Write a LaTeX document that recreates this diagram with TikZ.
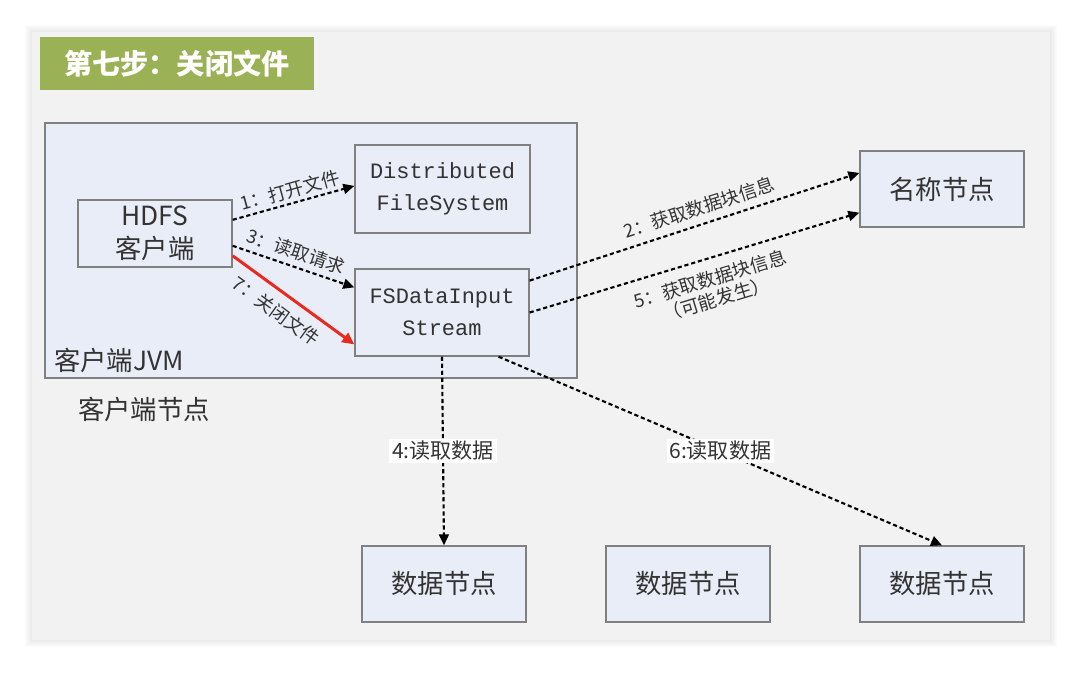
\documentclass[tikz,border=0pt]{standalone}
\usepackage{fontspec}
\setmainfont{Noto Sans CJK SC}
\setmonofont{Liberation Mono}
\usepackage{xcolor}
\usepackage{tikz}
\usetikzlibrary{arrows.meta, positioning}

\definecolor{slidegray}{RGB}{242,242,242}
\definecolor{boxblue}{RGB}{233,237,247}
\definecolor{boxline}{RGB}{128,128,128}
\definecolor{titlegreen}{RGB}{155,177,85}
\definecolor{textgray}{RGB}{51,51,51}
\definecolor{closered}{RGB}{235,40,30}

\begin{document}
\begin{tikzpicture}[x=0.02cm, y=-0.02cm,
    box/.style={draw=boxline, line width=0.8pt, fill=boxblue, text=textgray,
      align=center, font=\fontsize{15pt}{18.5pt}\selectfont},
    monobox/.style={box, font=\ttfamily\fontsize{12.5pt}{18.5pt}\selectfont},
    flow/.style={line width=1.2pt, dash pattern=on 2.4pt off 1.6pt,
      -{Triangle[length=2.2mm,width=2mm]}},
    steplabel/.style={font=\fontsize{10.5pt}{12pt}\selectfont, text=textgray,
      sloped, inner sep=1pt},
    readlabel/.style={font=\fontsize{12pt}{14pt}\selectfont, text=textgray,
      fill=white, inner sep=1.5pt}]
        \useasboundingbox (0,0) rectangle (1083,673);
        % Fond
        \fill[white] (0,0) rectangle (1083,673);
        \foreach \d in {1,...,7}
            \fill[black, opacity=0.012] (32-\d,32-\d) rectangle (1050+\d,640+\d);
        \fill[slidegray] (32,32) rectangle (1050,640);
        % Titre
        \node[fill=titlegreen, minimum width=5.48cm, minimum height=1.06cm,
            text=white, font=\bfseries\fontsize{16pt}{18pt}\selectfont]
            (title) at (177,63.5) {第七步：关闭文件};
        % Client
        \node[box, minimum width=10.64cm, minimum height=5.1cm] (jvm) at (311,250.5) {};
        \node[anchor=west, text=textgray, font=\fontsize{15pt}{18pt}\selectfont]
            (jvmlabel) at (48,360) {客户端JVM};
        \node[anchor=west, text=textgray, font=\fontsize{15pt}{18pt}\selectfont]
            (clientnode) at (72,409) {客户端节点};
        \node[box, minimum width=3.08cm, minimum height=1.34cm] (hdfs) at (155,233.5) {HDFS\\客户端};
        \node[monobox, minimum width=3.5cm, minimum height=1.76cm] (dfs) at (442.5,189) {Distributed\\FileSystem};
        \node[monobox, minimum width=3.48cm, minimum height=1.74cm] (fsd) at (442,312.5) {FSDataInput\\Stream};
        % Noeuds
        \node[box, minimum width=3.28cm, minimum height=1.52cm] (nn) at (942,189) {名称节点};
        \node[box, minimum width=3.28cm, minimum height=1.52cm] (dn1) at (444,584) {数据节点};
        \node[box, minimum width=3.28cm, minimum height=1.52cm] (dn2) at (688,584) {数据节点};
        \node[box, minimum width=3.28cm, minimum height=1.52cm] (dn3) at (942,584) {数据节点};
        % Fleches
        \draw[flow] (hdfs.10) -- (dfs.178) node[steplabel, midway, above=1pt] {1：打开文件};
        \draw[flow] (hdfs.-9) -- (fsd.164) node[steplabel, pos=0.48, above=2pt] {3：读取请求};
        \draw[closered, line width=1.7pt, -{Triangle[length=2.4mm,width=2.2mm]}]
            (hdfs.-16) -- (fsd.200) node[steplabel, pos=0.45, below=4pt] {7：关闭文件};
        \draw[flow] (fsd.20) -- (nn.169) node[steplabel, pos=0.53, above=3pt] {2：获取数据块信息};
        \draw[flow] (fsd.east) -- (nn.196) node[steplabel, pos=0.53, below=5pt, align=center]
            {5：获取数据块信息\\（可能发生）};
        \draw[flow] (fsd.south) -- (dn1.north) node[readlabel, midway] {4:读取数据};
        \draw[flow] (fsd.-38) -- (dn3.north) node[readlabel, midway] {6:读取数据};
\end{tikzpicture}
\end{document}
